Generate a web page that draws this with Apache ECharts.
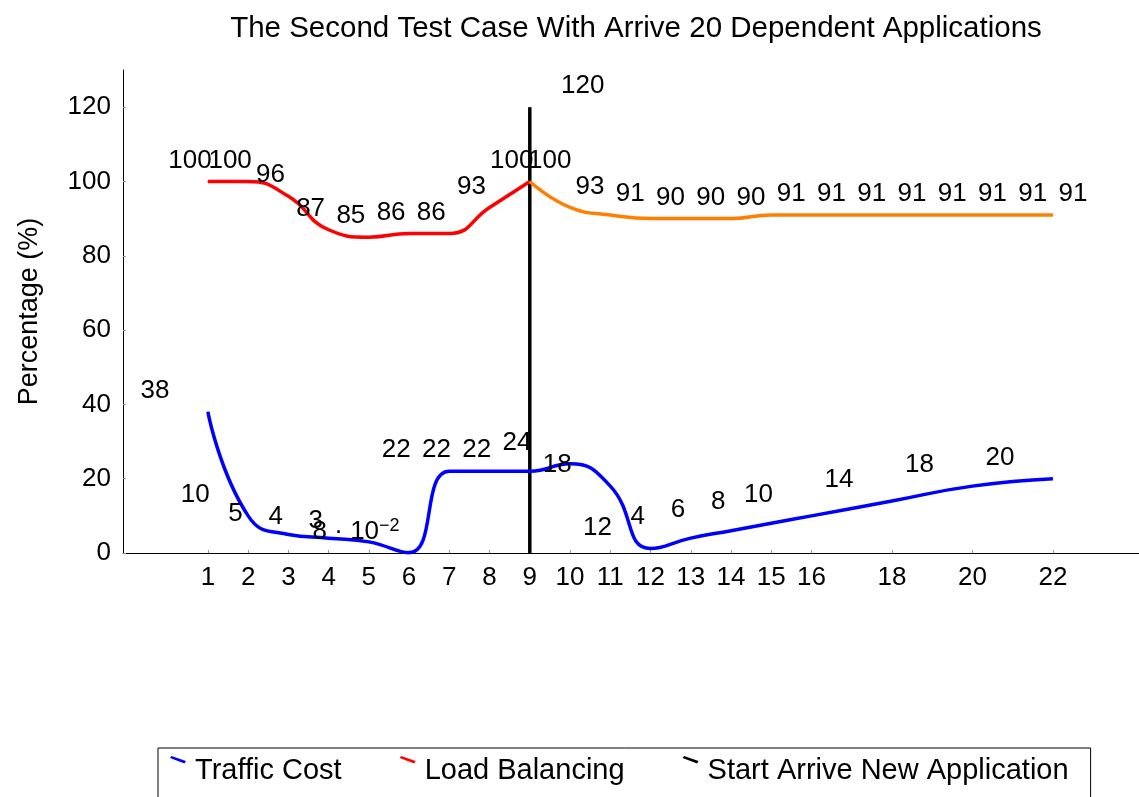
<!DOCTYPE html>
<html>
<head>
<meta charset="utf-8">
<script src="https://cdn.jsdelivr.net/npm/echarts@6/dist/echarts.min.js"></script>
<style>
  html, body { margin: 0; padding: 0; background: #fff; }
  #chart { width: 1139px; height: 797px; }
</style>
</head>
<body>
<div id="chart"></div>
<script>
// values
const trafficX = [1, 2, 3, 4, 5, 6, 7, 8, 9, 10, 11, 12, 13, 14, 15, 16, 18, 20, 22]
const trafficY = [38, 10, 5, 4, 3, 0.08, 22, 22, 22, 24, 18, 1.2, 4, 6, 8, 10, 14, 18, 20]
const trafficText = ['38', '10', '5', '4', '3', '{b|8 · 10}{s|−2}', '22', '22', '22', '24', '18', '12', '4', '6', '8', '10', '14', '18', '20']

const loadX = [1, 2, 3, 4, 5, 6, 7, 8, 9]
const loadY = [100, 100, 96, 87, 85, 86, 86, 93, 100]

const afterX = [9, 10, 11, 12, 13, 14, 15, 16, 17, 18, 19, 20, 21, 22]
const afterY = [100, 93, 91, 90, 90, 90, 91, 91, 91, 91, 91, 91, 91, 91]

const arriveX = [9, 9]
const arriveY = [0, 120]
const arriveText = ['', '120']

const xTicks = [1, 2, 3, 4, 5, 6, 7, 8, 9, 10, 11, 12, 13, 14, 15, 16, 18, 20, 22]
const yTicks = [0, 20, 40, 60, 80, 100, 120]

const FONT = 'Liberation Sans'
const zip = (xs, ys) => xs.map((x, i) => [x, ys[i]])
// short slanted stroke at the top of the legend item, like the pgfplots legend image
const slant = 'path://M0,2 L1.5,0 L16,5 L14.5,7.5 Z M0,30 L0.01,30 L0,30.01 Z'

const chart = echarts.init(document.getElementById('chart'))

const lineLabel = (dx, texts) => ({
  show: true,
  position: 'inside',
  offset: [dx, -21],
  color: '#000',
  fontFamily: FONT,
  fontSize: 26,
  formatter: p => texts ? texts[p.dataIndex] : String(p.value[1]),
  rich: {
    b: { fontFamily: FONT, fontSize: 26, color: '#000' },
    s: { fontFamily: FONT, fontSize: 18, color: '#000', verticalAlign: 'top', padding: [0, 0, 12, 0] }
  }
})

chart.setOption({
  animation: false,
  textStyle: { fontFamily: FONT },
  title: {
    text: 'The Second Test Case With Arrive 20 Dependent Applications',
    left: 631,
    textAlign: 'center',
    top: 9,
    textStyle: { fontFamily: FONT, fontSize: 29.5, fontWeight: 'normal', color: '#000' }
  },
  legend: {
    data: ['Traffic Cost', 'Load Balancing', 'Start Arrive New Application'],
    left: 158,
    top: 748,
    borderColor: '#000',
    borderWidth: 1,
    borderRadius: 0,
    padding: [8, 22, 12, 12],
    itemGap: 58,
    itemWidth: 16,
    itemHeight: 30,
    icon: slant,
    textStyle: { fontFamily: FONT, fontSize: 29, color: '#000', padding: [9, 0, 0, 4] }
  },
  grid: { left: 123, right: 0, top: 70, bottom: 244 },
  xAxis: {
    type: 'value',
    min: -1.11,
    max: 24.14,
    splitLine: { show: false },
    axisLine: { onZero: false, lineStyle: { color: '#000', width: 1 } },
    axisTick: { show: true, inside: true, length: 3, lineStyle: { color: '#999' }, customValues: xTicks },
    axisLabel: { customValues: xTicks, color: '#000', fontFamily: FONT, fontSize: 26, margin: 12 }
  },
  yAxis: {
    type: 'value',
    min: 0,
    max: 130,
    name: 'Percentage (%)',
    nameLocation: 'middle',
    nameGap: 80,
    nameTextStyle: { fontFamily: FONT, fontSize: 27, color: '#000' },
    splitLine: { show: false },
    axisLine: { show: true, onZero: false, lineStyle: { color: '#000', width: 1 } },
    axisTick: { show: true, inside: true, length: 3, lineStyle: { color: '#999' }, customValues: yTicks },
    axisLabel: { customValues: yTicks, color: '#000', fontFamily: FONT, fontSize: 26, margin: 12 }
  },
  series: [
    {
      name: 'Traffic Cost',
      type: 'line',
      smooth: 0.5,
      data: zip(trafficX, trafficY),
      symbol: 'circle',
      symbolSize: 1,
      itemStyle: { color: '#0000ff' },
      lineStyle: { color: '#0000ff', width: 3.5 },
      label: lineLabel(-53, trafficText)
    },
    {
      name: 'Load Balancing',
      type: 'line',
      smooth: 0.5,
      data: zip(loadX, loadY),
      symbol: 'circle',
      symbolSize: 1,
      itemStyle: { color: '#ff0000' },
      lineStyle: { color: '#ff0000', width: 3.5 },
      label: lineLabel(-18)
    },
    {
      name: 'Load Balancing (after)',
      type: 'line',
      smooth: 0.5,
      data: zip(afterX, afterY),
      symbol: 'circle',
      symbolSize: 1,
      itemStyle: { color: '#ff8000' },
      lineStyle: { color: '#ff8000', width: 3.5 },
      label: lineLabel(20)
    },
    {
      name: 'Start Arrive New Application',
      type: 'line',
      data: zip(arriveX, arriveY),
      symbol: 'circle',
      symbolSize: 1,
      itemStyle: { color: '#000' },
      lineStyle: { color: '#000', width: 3.5 },
      label: lineLabel(53, arriveText),
      z: 1
    }
  ]
})
</script>
</body>
</html>
